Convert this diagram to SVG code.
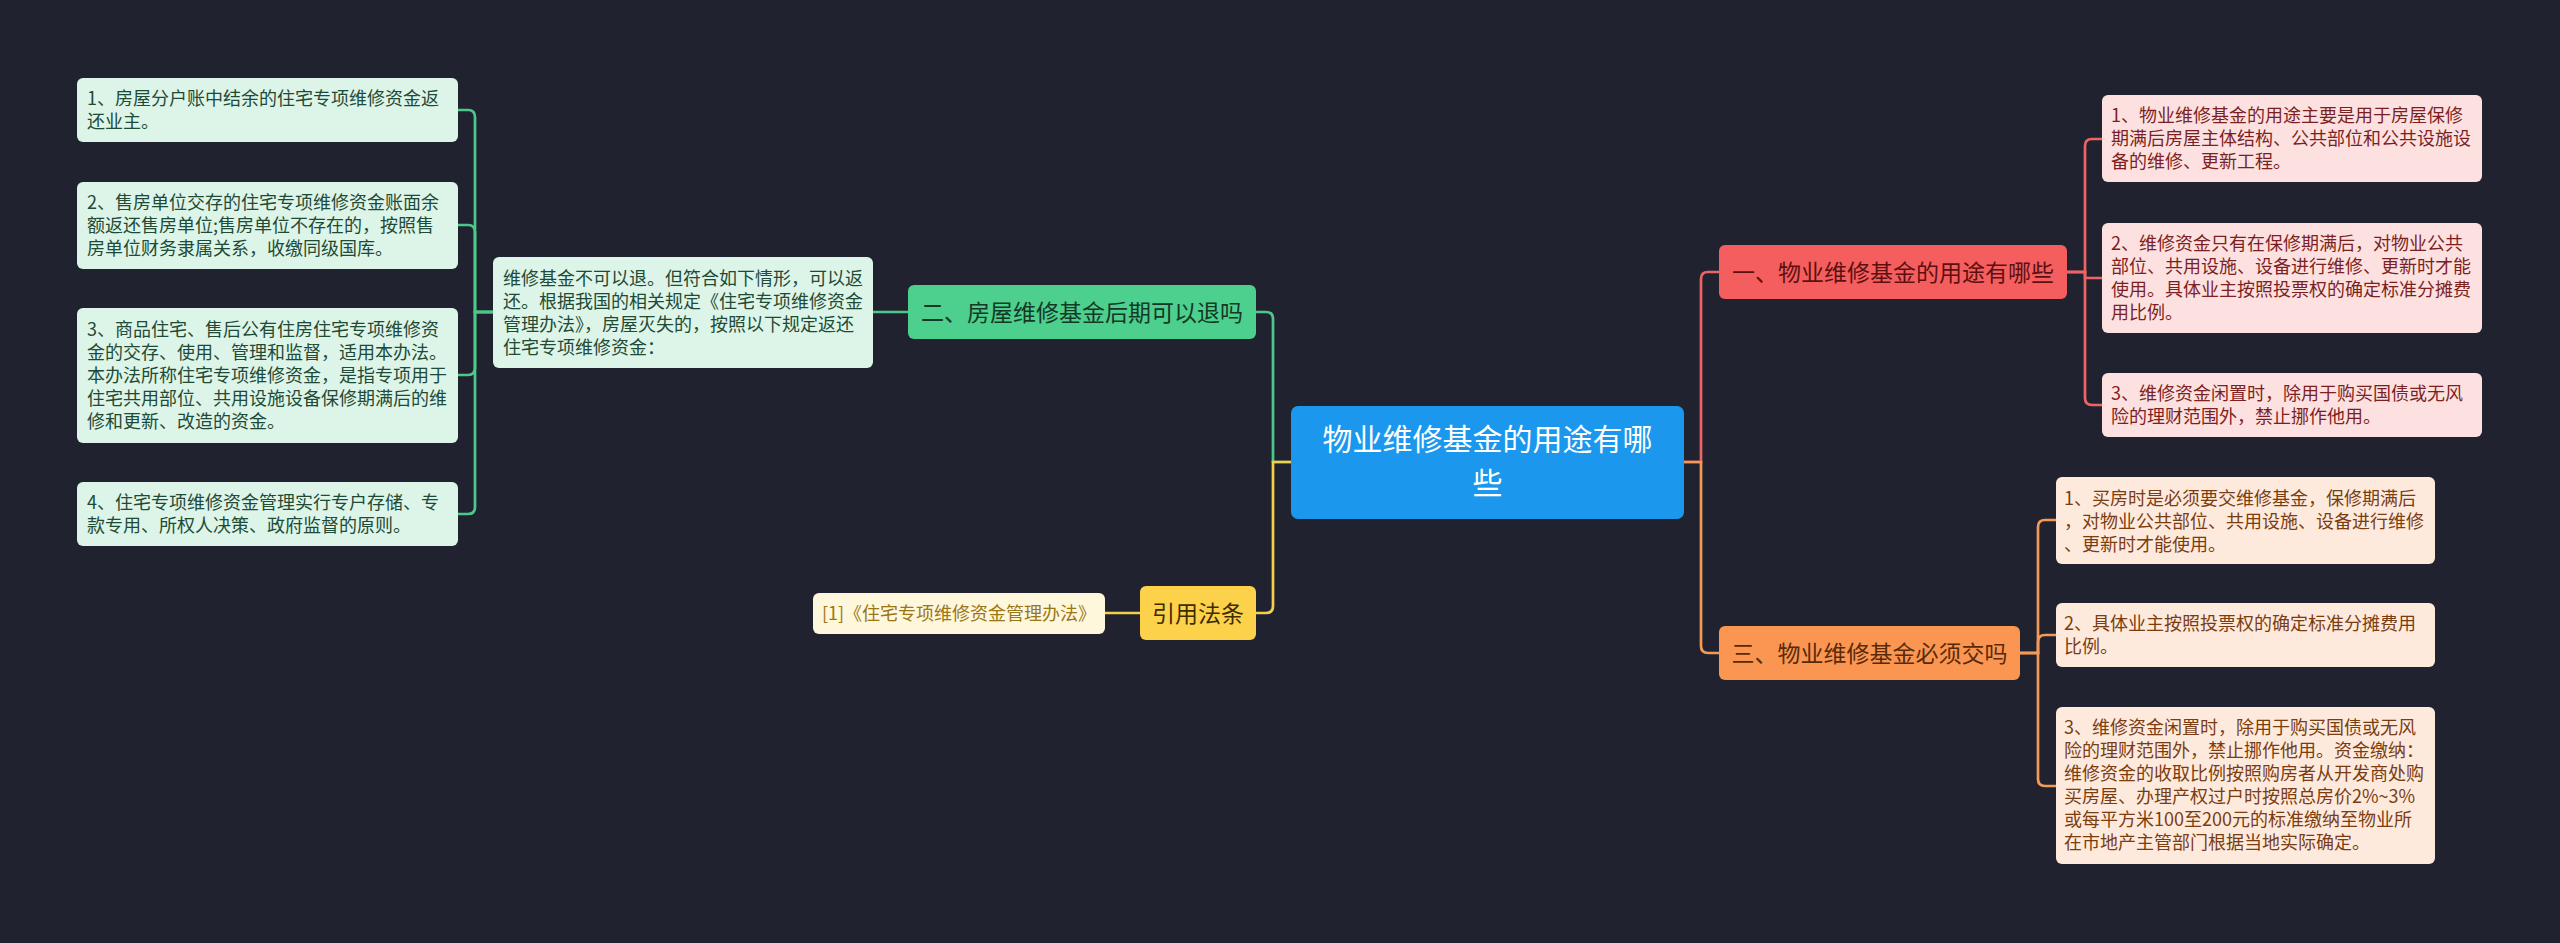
<svg xmlns="http://www.w3.org/2000/svg" width="2560" height="943" viewBox="0 0 2560 943">
<style>
text{font-family:"Noto Sans CJK SC","Noto Sans",sans-serif}
.c{fill:none;stroke-width:2.7}
.cg{stroke:#4cc98a}.cy{stroke:#f2cf4c}.cr{stroke:#ec6464}.co{stroke:#f39a57}
.t18{font-size:18px}
.gb{fill:#dcf5e8}.gt{fill:#1f4a35}
.rb{fill:#fde1e1}.rt{fill:#7c1f1f}
.ob{fill:#feeadc}.ot{fill:#7a3d12}
.mid{text-anchor:middle}
</style>
<rect width="2560" height="943" fill="#20232f"/>
<g id="connectors">
<path class="c cg" d="M493,312 H475 V117 Q475,110 468,110 H458"/>
<path class="c cg" d="M493,312 H475 V232 Q475,225 468,225 H458"/>
<path class="c cg" d="M493,312 H475 V368 Q475,375 468,375 H458"/>
<path class="c cg" d="M493,312 H475 V507 Q475,514 468,514 H458"/>
<path class="c cg" d="M908,312 H873"/>
<path class="c cg" d="M1291,462 H1273 V319 Q1273,312 1266,312 H1256"/>
<path class="c cy" d="M1291,462 H1273 V606 Q1273,613 1266,613 H1256"/>
<path class="c cy" d="M1140,613 H1105"/>
<path class="c cr" d="M1684,462 H1701 V279 Q1701,272 1708,272 H1719"/>
<path class="c co" d="M1684,462 H1701 V646 Q1701,653 1708,653 H1719"/>
<path class="c cr" d="M2067,272 H2085 V146 Q2085,139 2092,139 H2102"/>
<path class="c cr" d="M2067,272 H2085 V278 H2102"/>
<path class="c cr" d="M2067,272 H2085 V398 Q2085,405 2092,405 H2102"/>
<path class="c co" d="M2020,653 H2038 V527 Q2038,520 2045,520 H2056"/>
<path class="c co" d="M2020,653 H2038 V642 Q2038,635 2045,635 H2056"/>
<path class="c co" d="M2020,653 H2038 V779 Q2038,786 2045,786 H2056"/>
</g>
<g id="root">
<rect x="1291" y="406" width="393" height="113" rx="7" fill="#1b97ee"/>
<text class="mid" font-size="30" fill="#ffffff"><tspan x="1487.5" y="450">物业维修基金的用途有哪</tspan><tspan x="1487.5" y="494">些</tspan></text>
</g>
<g id="n-red">
<rect x="1719" y="245" width="348" height="54" rx="6" fill="#f55e5e"/>
<text class="mid" x="1893" y="280.5" font-size="23" fill="#5e1010">一、物业维修基金的用途有哪些</text>
</g>
<g id="n-orange">
<rect x="1719" y="626" width="301" height="54" rx="6" fill="#fa9652"/>
<text class="mid" x="1869.5" y="661.5" font-size="23" fill="#5a2a08">三、物业维修基金必须交吗</text>
</g>
<g id="n-green">
<rect x="908" y="285" width="348" height="54" rx="6" fill="#4dcf8d"/>
<text class="mid" x="1082" y="320.5" font-size="23" fill="#143826">二、房屋维修基金后期可以退吗</text>
</g>
<g id="n-yellow">
<rect x="1140" y="586" width="116" height="54" rx="6" fill="#fdd24b"/>
<text class="mid" x="1198" y="621.5" font-size="23" fill="#3d2e00">引用法条</text>
</g>
<g id="cite">
<rect x="813" y="593" width="292" height="41" rx="6" fill="#fff7dc"/>
<text class="t18 mid" x="959" y="619.5" fill="#9a7614">[1]《住宅专项维修资金管理办法》</text>
</g>
<g id="w-box">
<rect x="493" y="257" width="380" height="111" rx="6" class="gb"/>
<text class="t18 gt" x="503" y="284.5">维修基金不可以退。但符合如下情形，可以返</text>
<text class="t18 gt" x="503" y="307.5">还。根据我国的相关规定《住宅专项维修资金</text>
<text class="t18 gt" x="503" y="330.5">管理办法》，房屋灭失的，按照以下规定返还</text>
<text class="t18 gt" x="503" y="353.5">住宅专项维修资金：</text>
</g>
<g id="l1">
<rect x="77" y="78" width="381" height="64" rx="6" class="gb"/>
<text class="t18 gt" x="87" y="105">1、房屋分户账中结余的住宅专项维修资金返</text>
<text class="t18 gt" x="87" y="128">还业主。</text>
</g>
<g id="l2">
<rect x="77" y="182" width="381" height="87" rx="6" class="gb"/>
<text class="t18 gt" x="87" y="209">2、售房单位交存的住宅专项维修资金账面余</text>
<text class="t18 gt" x="87" y="232">额返还售房单位;售房单位不存在的，按照售</text>
<text class="t18 gt" x="87" y="255">房单位财务隶属关系，收缴同级国库。</text>
</g>
<g id="l3">
<rect x="77" y="308" width="381" height="135" rx="6" class="gb"/>
<text class="t18 gt" x="87" y="336">3、商品住宅、售后公有住房住宅专项维修资</text>
<text class="t18 gt" x="87" y="359">金的交存、使用、管理和监督，适用本办法。</text>
<text class="t18 gt" x="87" y="382">本办法所称住宅专项维修资金，是指专项用于</text>
<text class="t18 gt" x="87" y="405">住宅共用部位、共用设施设备保修期满后的维</text>
<text class="t18 gt" x="87" y="428">修和更新、改造的资金。</text>
</g>
<g id="l4">
<rect x="77" y="482" width="381" height="64" rx="6" class="gb"/>
<text class="t18 gt" x="87" y="509">4、住宅专项维修资金管理实行专户存储、专</text>
<text class="t18 gt" x="87" y="532">款专用、所权人决策、政府监督的原则。</text>
</g>
<g id="r1">
<rect x="2102" y="95" width="380" height="87" rx="6" class="rb"/>
<text class="t18 rt" x="2111" y="122">1、物业维修基金的用途主要是用于房屋保修</text>
<text class="t18 rt" x="2111" y="145">期满后房屋主体结构、公共部位和公共设施设</text>
<text class="t18 rt" x="2111" y="168">备的维修、更新工程。</text>
</g>
<g id="r2">
<rect x="2102" y="223" width="380" height="110" rx="6" class="rb"/>
<text class="t18 rt" x="2111" y="250">2、维修资金只有在保修期满后，对物业公共</text>
<text class="t18 rt" x="2111" y="273">部位、共用设施、设备进行维修、更新时才能</text>
<text class="t18 rt" x="2111" y="296">使用。具体业主按照投票权的确定标准分摊费</text>
<text class="t18 rt" x="2111" y="319">用比例。</text>
</g>
<g id="r3">
<rect x="2102" y="373" width="380" height="64" rx="6" class="rb"/>
<text class="t18 rt" x="2111" y="400">3、维修资金闲置时，除用于购买国债或无风</text>
<text class="t18 rt" x="2111" y="423">险的理财范围外，禁止挪作他用。</text>
</g>
<g id="o1">
<rect x="2056" y="477" width="379" height="87" rx="6" class="ob"/>
<text class="t18 ot" x="2064" y="504.5">1、买房时是必须要交维修基金，保修期满后</text>
<text class="t18 ot" x="2064" y="527.5">，对物业公共部位、共用设施、设备进行维修</text>
<text class="t18 ot" x="2064" y="550.5">、更新时才能使用。</text>
</g>
<g id="o2">
<rect x="2056" y="603" width="379" height="64" rx="6" class="ob"/>
<text class="t18 ot" x="2064" y="630">2、具体业主按照投票权的确定标准分摊费用</text>
<text class="t18 ot" x="2064" y="653">比例。</text>
</g>
<g id="o3">
<rect x="2056" y="707" width="379" height="157" rx="6" class="ob"/>
<text class="t18 ot" x="2064" y="734">3、维修资金闲置时，除用于购买国债或无风</text>
<text class="t18 ot" x="2064" y="757">险的理财范围外，禁止挪作他用。资金缴纳：</text>
<text class="t18 ot" x="2064" y="780">维修资金的收取比例按照购房者从开发商处购</text>
<text class="t18 ot" x="2064" y="803">买房屋、办理产权过户时按照总房价2%~3%</text>
<text class="t18 ot" x="2064" y="826">或每平方米100至200元的标准缴纳至物业所</text>
<text class="t18 ot" x="2064" y="849">在市地产主管部门根据当地实际确定。</text>
</g>
</svg>
